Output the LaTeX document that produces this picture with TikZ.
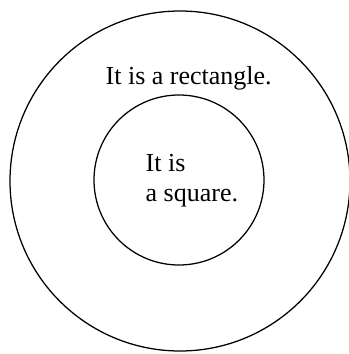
\documentclass[tikz,border=0pt]{standalone}
\usepackage{fontspec}
\setmainfont{Liberation Serif}
\usepackage{tikz}
\usetikzlibrary{positioning}

\begin{document}
\begin{tikzpicture}[line width=0.9pt, font=\fontsize{18.5}{21}\selectfont]
\useasboundingbox (0,0) rectangle (8.725,8.85);
% ---------- outer set: rectangles ----------
\draw (4.5,4.325) circle (4.25);
\node[anchor=base west, inner sep=0pt] (rect) at (2.625,6.75) {It is a rectangle.};
% ---------- inner set: squares ----------
\draw (4.475,4.35) circle (2.125);
\node[anchor=base west, inner sep=0pt] (sqA) at (3.625,4.575) {It is};
\node[anchor=base west, inner sep=0pt] (sqB) at (3.625,3.825) {a square.};
\end{tikzpicture}
\end{document}
